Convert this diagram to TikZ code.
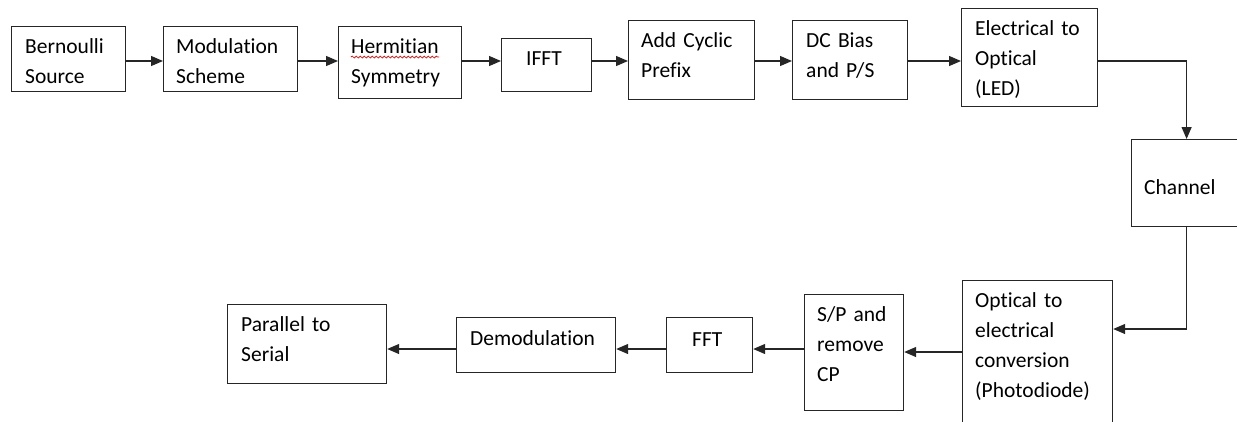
\documentclass[tikz,border=0pt]{standalone}
\usepackage{fontspec}
\setmainfont{Carlito}[Ligatures={NoCommon}, WordSpace=0.8]
\usetikzlibrary{arrows.meta,calc,decorations.pathmorphing}

\tikzset{
  blk/.style={draw=black!85, line width=1.2pt, inner sep=0pt, anchor=north west},
  lbl/.style={anchor=base west, inner sep=0pt, align=left, text width=160pt,
              font=\fontsize{21.5pt}{30pt}\selectfont, text=black},
  arr/.style={draw=black!85, line width=1.2pt, -{Triangle[length=12pt,width=10pt]}},
}

\begin{document}
\begin{tikzpicture}[x=1pt,y=-1pt]
  \clip (0,0) rectangle (1237,421);
  \fill[white] (0,0) rectangle (1237,421);

  % transmitter chain
  \node[blk, minimum width=114pt, minimum height=65pt] (b1) at (11,26) {};
  \node[blk, minimum width=134pt, minimum height=65pt] (b2) at (163,26) {};
  \node[blk, minimum width=123pt, minimum height=72pt] (b3) at (338,26) {};
  \node[blk, minimum width=90pt,  minimum height=53pt] (b4) at (501,38) {};
  \node[blk, minimum width=126pt, minimum height=79pt] (b5) at (628,20) {};
  \node[blk, minimum width=115pt, minimum height=79pt] (b6) at (792,20) {};
  \node[blk, minimum width=136pt, minimum height=98pt] (b7) at (961,8) {};
  % channel
  \node[blk, minimum width=110pt, minimum height=87pt] (b8) at (1131,139) {};
  % receiver chain
  \node[blk, minimum width=150pt, minimum height=160pt] (b9) at (962,280) {};
  \node[blk, minimum width=99pt,  minimum height=116pt] (b10) at (804,294) {};
  \node[blk, minimum width=86pt,  minimum height=55pt] (b11) at (666,317) {};
  \node[blk, minimum width=159pt, minimum height=55pt] (b12) at (456,317) {};
  \node[blk, minimum width=159pt, minimum height=79pt] (b13) at (227,304) {};

  % block labels
  \node[lbl] (t1) at ($(b1.north west)+(14,27)$) {Bernoulli\\Source};
  \node[lbl] (t2) at ($(b2.north west)+(13,27)$) {Modulation\\Scheme};
  \node[lbl] (t3) at ($(b3.north west)+(13,27)$) {Hermitian\\Symmetry};
  \node[lbl] (t4) at ($(b4.north west)+(25,27)$) {IFFT};
  \node[lbl] (t5) at ($(b5.north west)+(13,27)$) {Add Cyclic\\Prefix};
  \node[lbl] (t6) at ($(b6.north west)+(14,27)$) {DC Bias\\and P/S};
  \node[lbl] (t7) at ($(b7.north west)+(14,27)$) {Electrical to\\Optical\\(LED)};
  \node[lbl] (t8) at ($(b8.north west)+(13,55)$) {Channel};
  \node[lbl] (t9) at ($(b9.north west)+(13,27)$) {Optical to\\electrical\\conversion\\(Photodiode)};
  \node[lbl] (t10) at ($(b10.north west)+(13,27)$) {S/P and\\remove\\CP};
  \node[lbl] (t11) at ($(b11.north west)+(26,29)$) {FFT};
  \node[lbl] (t12) at ($(b12.north west)+(14,28)$) {Demodulation};
  \node[lbl] (t13) at ($(b13.north west)+(14,27)$) {Parallel to\\Serial};

  % spell-check underline
  \draw[red!85!black, line width=0.7pt, decorate,
        decoration={snake, amplitude=1pt, segment length=4pt}]
    ($(t3.base west)+(0,4)$) -- ($(t3.base west)+(88,4)$);

  % connector rows
  \coordinate (r1) at (0,61);
  \coordinate (r2) at (0,329);
  \coordinate (r3) at (0,352);
  \coordinate (r4) at (0,349);

  \draw[arr] (b1.east |- r1) -- (b2.west |- r1);
  \draw[arr] (b2.east |- r1) -- (b3.west |- r1);
  \draw[arr] (b3.east |- r1) -- (b4.west |- r1);
  \draw[arr] (b4.east |- r1) -- (b5.west |- r1);
  \draw[arr] (b5.east |- r1) -- (b6.west |- r1);
  \draw[arr] (b6.east |- r1) -- (b7.west |- r1);
  \draw[arr] (b7.east |- r1) -| (b8.north);
  \draw[arr] (b8.south) |- (b9.east |- r2);
  \draw[arr] (b9.west |- r3) -- (b10.east |- r3);
  \draw[arr] (b10.west |- r4) -- (b11.east |- r4);
  \draw[arr] (b11.west |- r4) -- (b12.east |- r4);
  \draw[arr] (b12.west |- r4) -- (b13.east |- r4);
\end{tikzpicture}
\end{document}
